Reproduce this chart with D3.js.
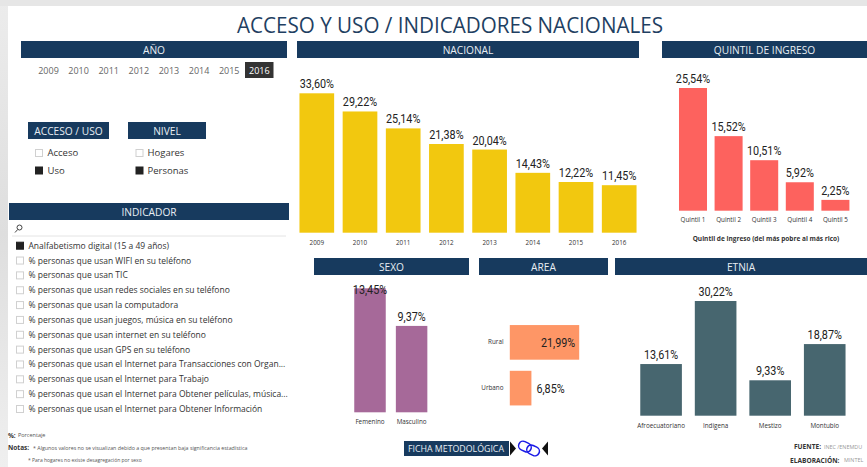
<!DOCTYPE html>
<html lang="es">
<head>
<meta charset="UTF-8">
<style>
    html, body {margin: 0; padding: 0; background: #fff; overflow: hidden}
    svg {display: block}
    text {font-family: "Open Sans", sans-serif}
    .num {font-family: "Roboto", sans-serif; fill: #222}
    .cat text {font-size: 6.3px; fill: #333}
</style>
</head>
<body>
<div id="chart"></div>
<script src="https://d3js.org/d3.v7.min.js"></script>
<script>
// values
var years = ["2009", "2010", "2011", "2012", "2013", "2014", "2015", "2016"];
var nacional = [33.60, 29.22, 25.14, 21.38, 20.04, 14.43, 12.22, 11.45];
var quintiles = ["Quintil 1", "Quintil 2", "Quintil 3", "Quintil 4", "Quintil 5"];
var quintilValues = [25.54, 15.52, 10.51, 5.92, 2.25];
var sexos = ["Femenino", "Masculino"];
var sexoValues = [13.45, 9.37];
var areas = ["Rural", "Urbano"];
var areaValues = [21.99, 6.85];
var etnias = ["Afroecuatoriano", "Indígena", "Mestizo", "Montubio"];
var etniaValues = [13.61, 30.22, 9.33, 18.87];
var indicadores = [
    "Analfabetismo digital (15 a 49 años)",
    "% personas que usan WIFI en su teléfono",
    "% personas que usan TIC",
    "% personas que usan redes sociales en su teléfono",
    "% personas que usan la computadora",
    "% personas que usan juegos, música en su teléfono",
    "% personas que usan internet en su teléfono",
    "% personas que usan GPS en su teléfono",
    "% personas que usan el Internet para Transacciones con Organ...",
    "% personas que usan el Internet para Trabajo",
    "% personas que usan el Internet para Obtener películas, música...",
    "% personas que usan el Internet para Obtener Información"
];

var navy = "#173a5e";
var fmt = function (v) { return v.toFixed(2).replace(".", ",") + "%"; };

var svg = d3.select("#chart").append("svg")
    .attr("width", 867)
    .attr("height", 467);

// grey page edge behind the white report
var defs = svg.append("defs");
var edge = defs.append("linearGradient").attr("id", "edge")
    .attr("x1", 0).attr("x2", 0).attr("y1", 0).attr("y2", 1);
edge.append("stop").attr("offset", "0").attr("stop-color", "#ececec");
edge.append("stop").attr("offset", "0.5").attr("stop-color", "#dedede");
edge.append("stop").attr("offset", "1").attr("stop-color", "#efefef");
svg.append("rect").attr("width", 8).attr("height", 467).attr("fill", "url(#edge)");
svg.append("rect").attr("width", 867).attr("height", 6).attr("fill", "#e6e6e6");

function label(x, y, txt, size, color, anchor, weight) {
    return svg.append("text")
        .attr("x", x)
        .attr("y", y)
        .attr("dy", "0.35em")
        .attr("text-anchor", anchor || "start")
        .attr("font-size", size)
        .attr("font-weight", weight || 400)
        .attr("fill", color)
        .text(txt);
}

// the value labels in the reference use a condensed face, so narrow ours
function squeeze(sel, k) {
    sel.each(function () {
        d3.select(this)
            .attr("textLength", this.getComputedTextLength() * k)
            .attr("lengthAdjust", "spacingAndGlyphs");
    });
}

function header(x0, x1, y0, txt, size) {
    svg.append("rect")
        .attr("x", x0).attr("y", y0)
        .attr("width", x1 - x0).attr("height", 17)
        .attr("fill", navy);
    label((x0 + x1) / 2, y0 + 9.5, txt, size || 10.2, "#e8eef3", "middle");
}

label(450, 25, "ACCESO Y USO / INDICADORES NACIONALES", 22, "#1f3f62", "middle")
    .attr("textLength", 426)
    .attr("lengthAdjust", "spacingAndGlyphs");

header(21, 287, 41, "AÑO");
header(297, 639, 41, "NACIONAL");
header(662, 867, 41, "QUINTIL DE INGRESO");
header(28, 109, 122, "ACCESO / USO");
header(128, 206, 122, "NIVEL");
header(9, 289, 203, "INDICADOR");
header(314, 469, 258, "SEXO");
header(479, 608, 258, "AREA");
header(615, 867, 258, "ETNIA");

// year slicer
var yearX = d3.scalePoint().domain(years).range([48.5, 259.3]);
svg.append("rect")
    .attr("x", 245).attr("y", 62)
    .attr("width", 28.5).attr("height", 16)
    .attr("fill", "#333");
years.forEach(function (y) {
    label(yearX(y), 71, y, 9, y === "2016" ? "#fff" : "#666", "middle");
});

function checkbox(x, y, on, txt, textX, size) {
    svg.append("rect")
        .attr("x", x).attr("y", y - 3.5)
        .attr("width", 7).attr("height", 7)
        .attr("fill", on ? "#222" : "#fff")
        .attr("stroke", on ? "#222" : "#d0d0d0");
    label(textX, y, txt, size, "#333");
}

checkbox(35.5, 153, false, "Acceso", 47.5, 9.5);
checkbox(35.5, 170.5, true, "Uso", 47.5, 9.5);
checkbox(136, 153, false, "Hogares", 147.5, 9.5);
checkbox(136, 170.5, true, "Personas", 147.5, 9.5);

// search row of the indicator slicer
var lens = svg.append("g").attr("fill", "none").attr("stroke", "#444");
lens.append("circle").attr("cx", 19.5).attr("cy", 227.5).attr("r", 2.5);
lens.append("path").attr("d", "M17.7 229.5 L15 232.5");
svg.append("path").attr("d", "M12 236 H286").attr("stroke", "#e4e4e4");

var rowY = d3.scalePoint().domain(indicadores).range([245.7, 409]);
indicadores.forEach(function (d, i) {
    checkbox(16.5, rowY(d), i === 0, d, 28.5, 8.5);
});

function columns(cats, vals, x0, x1, yBase, yTop, pad, color, catY, labelFloor) {
    var x = d3.scaleBand().domain(cats).range([x0, x1]).paddingInner(pad).paddingOuter(pad / 2);
    var y = d3.scaleLinear().domain([0, d3.max(vals)]).range([yBase, yTop]);
    var g = svg.append("g");
    g.selectAll("rect")
        .data(vals)
        .enter().append("rect")
        .attr("x", function (d, i) { return x(cats[i]); })
        .attr("y", function (d) { return y(d); })
        .attr("width", x.bandwidth())
        .attr("height", function (d) { return yBase - y(d); })
        .attr("fill", color);
    g.selectAll("text")
        .data(vals)
        .enter().append("text")
        .attr("class", "num")
        .attr("x", function (d, i) { return x(cats[i]) + x.bandwidth() / 2; })
        // the tallest sexo label is pushed down onto its bar in the reference
        .attr("y", function (d) { return Math.max(y(d) - 5, labelFloor || 0); })
        .attr("text-anchor", "middle")
        .attr("font-size", 13.5)
        .text(fmt)
        .call(squeeze, 0.8);
    var axis = svg.append("g")
        .attr("class", "cat")
        .attr("transform", "translate(0," + catY + ")")
        .call(d3.axisBottom(x).tickSize(0).tickPadding(0));
    axis.select(".domain").remove();
}

columns(years, nacional, 295.2, 640.8, 232.7, 93.3, 0.197, "#f2c80f", 240.5);
columns(quintiles, quintilValues, 675.2, 853.2, 210.7, 88, 0.213, "#fd625e", 218);
columns(sexos, sexoValues, 349.2, 432.4, 412.3, 288.3, 0.243, "#a66999", 420, 293.5);
columns(etnias, etniaValues, 633.8, 852, 415.7, 301, 0.237, "#47666f", 423.5);

label(766, 239, "Quintil de ingreso (del más pobre al más rico)", 6.5, "#333", "middle", 700);

// area is the only horizontal bar chart
var areaY = d3.scaleBand().domain(areas).range([319.5, 411]).paddingInner(0.243).paddingOuter(0.1215);
var areaX = d3.scaleLinear().domain([0, d3.max(areaValues)]).range([509.8, 579.2]);
svg.append("g").selectAll("rect")
    .data(areaValues)
    .enter().append("rect")
    .attr("x", areaX(0))
    .attr("y", function (d, i) { return areaY(areas[i]); })
    .attr("width", function (d) { return areaX(d) - areaX(0); })
    .attr("height", areaY.bandwidth())
    .attr("fill", "#fe9666");
svg.append("g").selectAll("text")
    .data(areaValues)
    .enter().append("text")
    .attr("class", "num")
    .attr("x", function (d) { return d > 10 ? areaX(d) - 4 : areaX(d) + 5; })
    .attr("y", function (d, i) { return areaY(areas[i]) + areaY.bandwidth() / 2; })
    .attr("dy", "0.35em")
    .attr("text-anchor", function (d) { return d > 10 ? "end" : "start"; })
    .attr("font-size", 13.5)
    .text(fmt)
    .call(squeeze, 0.8);
var areaAxis = svg.append("g")
    .attr("class", "cat")
    .attr("transform", "translate(503.5,0)")
    .call(d3.axisLeft(areaY).tickSize(0).tickPadding(0));
areaAxis.select(".domain").remove();

// methodology button
svg.append("rect")
    .attr("x", 404).attr("y", 441)
    .attr("width", 105).attr("height", 15)
    .attr("fill", navy);
label(456, 448.5, "FICHA METODOLÓGICA", 8.8, "#e8eef3", "middle");
svg.append("path").attr("d", "M510 441.5 L516 448.5 L510 455.5 Z").attr("fill", "#111");
svg.append("path").attr("d", "M548 441.5 L542 448.5 L548 455.5 Z").attr("fill", "#111");
var link = svg.append("g")
    .attr("transform", "translate(529,448.5) rotate(25)")
    .attr("fill", "none")
    .attr("stroke", "#1a1ae6")
    .attr("stroke-width", 1.5);
link.append("rect").attr("x", -11).attr("y", -4.5).attr("width", 13).attr("height", 9).attr("rx", 4.5);
link.append("rect").attr("x", -2).attr("y", -4.5).attr("width", 13).attr("height", 9).attr("rx", 4.5);

// notes and sources
label(8, 435.5, "%:", 6.5, "#333", "start", 700);
label(18, 435.5, "Porcentaje", 5.5, "#555");
label(8, 448, "Notas:", 6.5, "#333", "start", 700);
label(33, 448, "* Algunos valores no se visualizan debido a que presentan baja significancia estadística", 5.3, "#555");
label(28, 460, "* Para hogares no existe desagregación por sexo", 5, "#555");
label(794, 447, "FUENTE:", 6.6, "#333", "start", 700);
label(824, 447, "INEC /ENEMDU", 5.4, "#999");
label(790, 460.5, "ELABORACIÓN:", 6.6, "#333", "start", 700);
label(844, 460.5, "MINTEL", 5.4, "#999");
</script>
</body>
</html>
